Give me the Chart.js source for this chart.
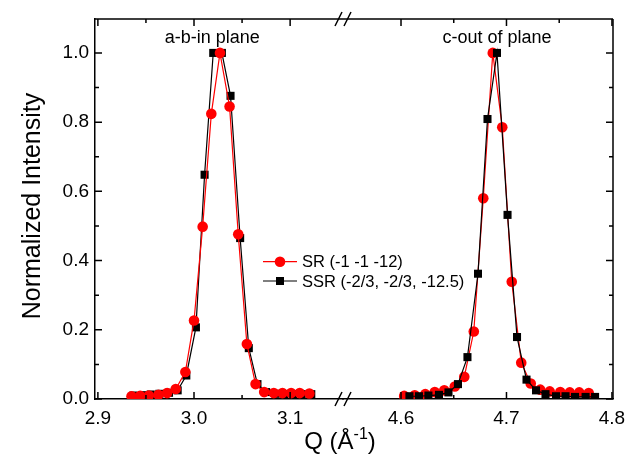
<!DOCTYPE html>
<html>
<head>
<meta charset="utf-8">
<script src="https://cdn.jsdelivr.net/npm/chart.js@4.4.1/dist/chart.umd.min.js"></script>
<style>
	html, body {margin: 0; padding: 0; background: #ffffff;}
</style>
</head>
<body>
<canvas id="chart-view" width="626" height="466"></canvas>
<script>
// DATA

var srLeftQ = [2.935, 2.944, 2.953, 2.963, 2.972, 2.981, 2.991, 3.000, 3.009, 3.018, 3.027, 3.037, 3.046, 3.055, 3.064, 3.073, 3.083, 3.092, 3.101, 3.110, 3.120];
var srLeftIntensity = [0.008, 0.009, 0.010, 0.012, 0.017, 0.029, 0.078, 0.227, 0.498, 0.824, 1.000, 0.845, 0.476, 0.159, 0.043, 0.020, 0.017, 0.017, 0.017, 0.017, 0.016];

var ssrLeftQ = [2.937, 2.946, 2.955, 2.964, 2.974, 2.983, 2.992, 3.002, 3.011, 3.020, 3.029, 3.038, 3.048, 3.057, 3.066, 3.075, 3.085, 3.094, 3.103, 3.112, 3.122];
var ssrLeftIntensity = [0.010, 0.011, 0.013, 0.015, 0.018, 0.025, 0.068, 0.207, 0.648, 1.000, 1.000, 0.876, 0.465, 0.147, 0.043, 0.020, 0.015, 0.014, 0.014, 0.014, 0.014];

var srRightQ = [4.603, 4.613, 4.623, 4.632, 4.641, 4.651, 4.660, 4.669, 4.678, 4.687, 4.696, 4.705, 4.714, 4.723, 4.732, 4.741, 4.751, 4.760, 4.769, 4.778];
var srRightIntensity = [0.009, 0.011, 0.014, 0.020, 0.025, 0.036, 0.064, 0.195, 0.580, 1.000, 0.785, 0.339, 0.105, 0.045, 0.027, 0.022, 0.020, 0.019, 0.019, 0.017];

var ssrRightQ = [4.608, 4.617, 4.626, 4.636, 4.645, 4.654, 4.663, 4.673, 4.682, 4.691, 4.701, 4.710, 4.719, 4.728, 4.737, 4.747, 4.756, 4.765, 4.775, 4.784];
var ssrRightIntensity = [0.008, 0.008, 0.010, 0.012, 0.019, 0.043, 0.121, 0.362, 0.809, 1.000, 0.532, 0.179, 0.056, 0.025, 0.014, 0.008, 0.008, 0.006, 0.006, 0.006];

var seriesNames = ['SR (-1 -1 -12)', 'SSR (-2/3, -2/3, -12.5)'];
var peakLabels = ['a-b-in plane', 'c-out of plane'];

var xTicksLeft = [2.9, 3.0, 3.1];
var xMinorLeft = [2.95, 3.05];
var xTicksRight = [4.6, 4.7, 4.8];
var xMinorRight = [4.65, 4.75];
var yTicks = [0, 0.2, 0.4, 0.6, 0.8, 1.0];
var yMinor = [0.1, 0.3, 0.5, 0.7, 0.9];

var fontFamily = "'Liberation Sans', Arial, sans-serif";

function toPoints(q, values)
{
	return q.map(function (x, i) {return {x: x, y: values[i]}});
}

function setTicks(values)
{
	return function (scale)
	{
		scale.ticks = values.map(function (value) {return {value: value}});
	}
}

function lineDataset(label, q, values, axis, style, order)
{
	return {
		label: label,
		data: toPoints(q, values),
		xAxisID: axis,
		yAxisID: 'y',
		borderColor: style.color,
		backgroundColor: style.color,
		pointBackgroundColor: style.color,
		pointBorderWidth: 0,
		pointStyle: style.pointStyle,
		pointRadius: style.radius,
		borderWidth: 1.2,
		tension: 0,
		order: order
	}
}

var srStyle = {color: '#ff0000', pointStyle: 'circle', radius: 5.3};
var ssrStyle = {color: '#000000', pointStyle: 'rect', radius: 5.7};

// frame, inward ticks, axis break, texts
var framePlugin =
{
	id: 'frame',
	afterDraw: function (chart)
	{
		var ctx = chart.ctx;
		var area = chart.chartArea;
		var x1 = chart.scales.x1;
		var x2 = chart.scales.x2;
		var y = chart.scales.y;

		ctx.save();
		ctx.strokeStyle = '#000000';
		ctx.lineWidth = 1.5;

		ctx.beginPath();
		ctx.moveTo(area.left, area.top);
		ctx.lineTo(area.right, area.top);
		ctx.moveTo(area.right, area.top);
		ctx.lineTo(area.right, area.bottom);
		ctx.stroke();

		function tickX(scale, values, len)
		{
			values.forEach(function (value)
			{
				var px = scale.getPixelForValue(value);
				ctx.moveTo(px, area.bottom);
				ctx.lineTo(px, area.bottom - len);
				ctx.moveTo(px, area.top);
				ctx.lineTo(px, area.top + len);
			});
		}

		ctx.beginPath();
		tickX(x1, xTicksLeft, 7);
		tickX(x1, xMinorLeft, 4);
		tickX(x2, xTicksRight, 7);
		tickX(x2, xMinorRight, 4);

		[[yTicks, 7], [yMinor, 4]].forEach(function (set)
		{
			set[0].forEach(function (value)
			{
				var py = y.getPixelForValue(value);
				ctx.moveTo(area.left, py);
				ctx.lineTo(area.left + set[1], py);
				ctx.moveTo(area.right, py);
				ctx.lineTo(area.right - set[1], py);
			});
		});
		ctx.stroke();

		// axis break marks
		var b = x1.right;
		ctx.beginPath();
		[area.top, area.bottom].forEach(function (yy)
		{
			[-4.5, 4.5].forEach(function (dx)
			{
				ctx.moveTo(b + dx - 3.5, yy + 7);
				ctx.lineTo(b + dx + 3.5, yy - 7);
			});
		});
		ctx.stroke();

		// x title with superscript
		ctx.fillStyle = '#000000';
		ctx.textBaseline = 'alphabetic';
		var mainFont = '24px ' + fontFamily;
		var supFont = '16px ' + fontFamily;
		var parts = [['Q (Å', mainFont, 0], ['-1', supFont, -10], [')', mainFont, 0]];
		var total = 0;
		parts.forEach(function (p) {ctx.font = p[1]; total += ctx.measureText(p[0]).width;});
		var tx = b - 3 - total / 2;
		parts.forEach(function (p)
		{
			ctx.font = p[1];
			ctx.textAlign = 'left';
			ctx.fillText(p[0], tx, 449 + p[2]);
			tx += ctx.measureText(p[0]).width;
		});

		// y title
		ctx.save();
		ctx.translate(40, 206);
		ctx.rotate(-Math.PI / 2);
		ctx.font = '25px ' + fontFamily;
		ctx.textAlign = 'center';
		ctx.fillText('Normalized Intensity', 0, 0);
		ctx.restore();

		// peak labels
		ctx.font = '18px ' + fontFamily;
		ctx.textAlign = 'center';
		ctx.fillText(peakLabels[0], x1.getPixelForValue(3.019), y.getPixelForValue(1.029));
		ctx.fillText(peakLabels[1], x2.getPixelForValue(4.691), y.getPixelForValue(1.029));

		// legend
		var rows = [[srStyle, 261.7], [ssrStyle, 281]];
		ctx.font = '16.5px ' + fontFamily;
		ctx.textAlign = 'left';
		ctx.textBaseline = 'middle';
		rows.forEach(function (row, i)
		{
			var style = row[0];
			var ly = row[1];
			ctx.strokeStyle = style.color;
			ctx.fillStyle = style.color;
			ctx.lineWidth = 1.2;
			ctx.beginPath();
			ctx.moveTo(263, ly);
			ctx.lineTo(297, ly);
			ctx.stroke();
			ctx.beginPath();
			if (style.pointStyle == 'circle')
			{
				ctx.arc(280, ly, style.radius, 0, Math.PI * 2);
			}
			else
			{
				ctx.rect(276, ly - 4, 8, 8);
			}
			ctx.fill();
			ctx.fillStyle = '#000000';
			ctx.fillText(seriesNames[i], 302, ly + 1);
		});

		ctx.restore();
	}
};

var tickFont = {family: fontFamily, size: 19};

function xScale(values, min, max, weight)
{
	return {
		type: 'linear',
		position: 'bottom',
		stack: 'q',
		stackWeight: weight,
		min: min,
		max: max,
		afterBuildTicks: setTicks(values),
		afterFit: function (scale)
		{
			scale.height = 67;
			scale.paddingLeft = 0;
			scale.paddingRight = 0;
		},
		grid: {drawOnChartArea: false, drawTicks: false},
		border: {display: true, color: '#000000', width: 1.5},
		ticks:
		{
			padding: 8,
			color: '#000000',
			font: tickFont,
			autoSkip: false,
			maxRotation: 0,
			callback: function (value) {return Number(value).toFixed(1)}
		}
	}
}

new Chart(document.getElementById('chart-view'),
{
	type: 'line',
	data:
	{
		datasets:
		[
			lineDataset(seriesNames[1], ssrLeftQ, ssrLeftIntensity, 'x1', ssrStyle, 2),
			lineDataset(seriesNames[0], srLeftQ, srLeftIntensity, 'x1', srStyle, 1),
			lineDataset(seriesNames[0], srRightQ, srRightIntensity, 'x2', srStyle, 2),
			lineDataset(seriesNames[1], ssrRightQ, ssrRightIntensity, 'x2', ssrStyle, 1)
		]
	},
	options:
	{
		responsive: false,
		animation: false,
		layout: {padding: {left: 0, right: 13, top: 19, bottom: 0}},
		plugins:
		{
			legend: {display: false},
			tooltip: {enabled: false}
		},
		scales:
		{
			x1: xScale(xTicksLeft, 2.897, 3.155, 248),
			x2: xScale(xTicksRight, 4.545, 4.801, 270),
			y:
			{
				type: 'linear',
				min: 0,
				max: 1.098,
				afterBuildTicks: setTicks(yTicks),
				afterFit: function (scale)
				{
					scale.width = 95;
					scale.paddingTop = 0;
					scale.paddingBottom = 0;
				},
				grid: {drawOnChartArea: false, drawTicks: false},
				border: {display: true, color: '#000000', width: 1.5},
				ticks:
				{
					padding: 6,
					color: '#000000',
					font: tickFont,
					callback: function (value) {return Number(value).toFixed(1)}
				}
			}
		}
	},
	plugins: [framePlugin]
});
</script>
</body>
</html>
